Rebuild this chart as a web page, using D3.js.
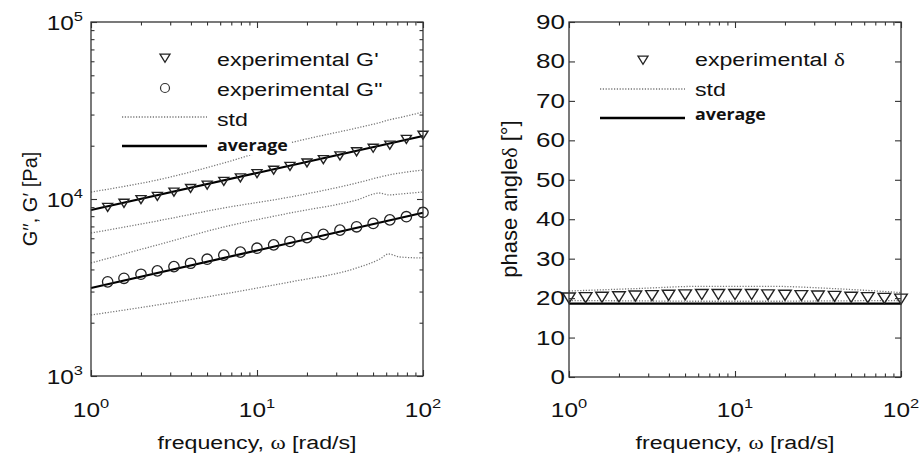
<!DOCTYPE html>
<html>
<head>
<meta charset="utf-8">
<script src="https://d3js.org/d3.v7.min.js"></script>
<style>
  body { margin: 0; background: #fff; }
  text { font-family: "Liberation Sans", Arial, sans-serif; fill: #111; }
</style>
</head>
<body>
<div id="chart"></div>
<script>
// ---- data ----
// left panel: storage / loss modulus vs frequency
var freqG = [1.26, 1.58, 2.0, 2.51, 3.16, 3.98, 5.01, 6.31, 7.94, 10, 12.6, 15.8, 20, 25.1, 31.6, 39.8, 50.1, 63.1, 79.4, 100];
var gPrime = [8995, 9484, 9954, 10375, 10965, 11508, 12023, 12618, 13213, 13964, 14588, 15346, 16032, 16749, 17579, 18535, 19409, 20230, 21780, 23010];
var gDouble = [3404, 3565, 3758, 3926, 4150, 4335, 4571, 4819, 5012, 5272, 5508, 5754, 6053, 6310, 6668, 6966, 7278, 7621, 7943, 8395];

var freqAvg = [1, 10, 100];
var gPrimeAvg = [8670, 14030, 22700];
var gDoubleAvg = [3140, 5120, 8360];

var freqStd = [1, 2.5, 6.3, 15.8, 39.8, 55, 62, 72.7, 100];
var gPrimeStdHi = [10950, 12800, 15970, 20720, 25180, 27050, 27950, 28870, 31000];
var gPrimeStdLo = [6427, 7510, 8896, 10260, 12310, 13310, 13660, 14020, 14580];
var gDoubleStdHi = [4350, 5497, 6947, 8335, 9872, 10810, 10540, 10670, 10950];
var gDoubleStdLo = [2212, 2518, 2906, 3397, 4076, 4581, 4891, 4702, 4642];

// right panel: phase angle vs frequency
var freqDelta = [1, 1.26, 1.58, 2.0, 2.51, 3.16, 3.98, 5.01, 6.31, 7.94, 10, 12.6, 15.8, 20, 25.1, 31.6, 39.8, 50.1, 63.1, 79.4, 100];
var delta = [20.1, 20.2, 20.3, 20.4, 20.6, 20.7, 20.8, 20.9, 21.0, 21.0, 21.0, 21.0, 20.9, 20.8, 20.7, 20.6, 20.5, 20.3, 20.2, 20.0, 19.8];
var deltaAvg = [18.6, 18.6, 18.6];
var freqDeltaStd = [1, 2.5, 6.3, 15.8, 39.8, 100];
var deltaStdHi = [21.8, 22.4, 23.0, 23.0, 22.4, 21.4];
var deltaStdLo = [19.4, 19.3, 19.2, 19.2, 19.3, 19.4];

var phaseTicks = [0, 10, 20, 30, 40, 50, 60, 70, 80, 90];

var width = 920, height = 462;
var SX = 1.22;   // the original figure is stretched sideways a bit

var svg = d3.select("#chart").append("svg")
    .attr("width", width)
    .attr("height", height);

function zip(xs, ys) {
    return xs.map(function(w, i) { return {w: w, v: ys[i]}; });
}

// widen a text around its own anchor point
function stretch(t, sx) {
    var x = +t.attr("x"), y = +t.attr("y");
    t.attr("transform", "translate(" + x + "," + y + ") scale(" + sx + ",1) translate(" + (-x) + "," + (-y) + ")");
    return t;
}

// log minor ticks between decades
function logMinor(lo, hi) {
    var out = [];
    for (var p = lo; p < hi; p *= 10)
        for (var m = 2; m <= 9; m++) out.push(p * m);
    return out;
}

function box(x, y) {
    var r = x.range(), s = y.range();
    svg.append("rect")
        .attr("x", r[0]).attr("y", s[1])
        .attr("width", r[1] - r[0]).attr("height", s[0] - s[1])
        .attr("fill", "none").attr("stroke", "#333").attr("stroke-width", 1.3);
}

// inward ticks on all four sides, MATLAB style
function ticks(x, y, xMajor, xMinor, yMajor, yMinor) {
    var r = x.range(), s = y.range();
    var sides = [
        [function(){ return d3.axisBottom(x); }, "translate(0," + s[0] + ")", xMajor, xMinor],
        [function(){ return d3.axisTop(x); }, "translate(0," + s[1] + ")", xMajor, xMinor],
        [function(){ return d3.axisLeft(y); }, "translate(" + r[0] + ",0)", yMajor, yMinor],
        [function(){ return d3.axisRight(y); }, "translate(" + r[1] + ",0)", yMajor, yMinor]
    ];
    sides.forEach(function(sd) {
        [[sd[2], -6], [sd[3], -3.5]].forEach(function(t) {
            if (!t[0].length) return;
            var g = svg.append("g").attr("transform", sd[1])
                .call(sd[0]().tickValues(t[0]).tickSize(t[1]).tickFormat(""));
            g.select(".domain").remove();
            g.selectAll("line").attr("stroke", "#333").attr("stroke-width", 1.1);
        });
    });
}

function powLabel(g, px, py, exp, anchor) {
    var t = g.append("text")
        .attr("x", px).attr("y", py)
        .attr("text-anchor", anchor)
        .style("font-size", "20px");
    t.append("tspan").text("10");
    t.append("tspan").attr("dy", -9).style("font-size", "13.5px").text(exp);
    stretch(t, SX);
}

function dotted(x, y, fs, vs) {
    svg.append("path")
        .datum(zip(fs, vs))
        .attr("d", d3.line().curve(d3.curveMonotoneX).x(function(d){ return x(d.w); }).y(function(d){ return y(d.v); }))
        .attr("fill", "none")
        .attr("stroke", "#777")
        .attr("stroke-width", 1.3)
        .attr("stroke-dasharray", "1.2,1.6");
}

function solid(x, y, fs, vs) {
    svg.append("path")
        .datum(zip(fs, vs))
        .attr("d", d3.line().x(function(d){ return x(d.w); }).y(function(d){ return y(d.v); }))
        .attr("fill", "none")
        .attr("stroke", "#000")
        .attr("stroke-width", 2.2);
}

function triangles(x, y, fs, vs, s) {
    svg.append("g").selectAll("path")
        .data(zip(fs, vs))
        .enter().append("path")
        .attr("transform", function(d){ return "translate(" + x(d.w) + "," + y(d.v) + ")"; })
        .attr("d", "M" + (-s) + "," + (-s * 0.75) + "L" + s + "," + (-s * 0.75) + "L0," + (s * 0.85) + "Z")
        .attr("fill", "none")
        .attr("stroke", "#222")
        .attr("stroke-width", 1.4);
}

function freqTitle(cx) {
    var t = svg.append("text")
        .attr("x", cx).attr("y", 449)
        .attr("text-anchor", "middle")
        .style("font-size", "19px")
        .html('frequency, <tspan style="font-family:\'Liberation Serif\',serif">ω</tspan> [rad/s]');
    stretch(t, SX);
}

function legText(g, x, y, html) {
    var t = g.append("text").attr("x", x).attr("y", y).style("font-size", "19px").html(html);
    stretch(t, SX);
}

function legBold(g, x, y) {
    var t = g.append("text").attr("x", x).attr("y", y)
        .style("font-family", "'Open Sans', sans-serif").style("font-weight", "bold").style("font-size", "15.5px")
        .text("average");
    stretch(t, 1.15);
}

// ================= left panel =================
var xL = d3.scaleLog().domain([1, 100]).range([91, 423]);
var yL = d3.scaleLog().domain([1e3, 1e5]).range([376, 22]);

dotted(xL, yL, freqStd, gPrimeStdHi);
dotted(xL, yL, freqStd, gPrimeStdLo);
dotted(xL, yL, freqStd, gDoubleStdHi);
dotted(xL, yL, freqStd, gDoubleStdLo);
solid(xL, yL, freqAvg, gPrimeAvg);
solid(xL, yL, freqAvg, gDoubleAvg);
triangles(xL, yL, freqG, gPrime, 5);

svg.append("g").selectAll("circle")
    .data(zip(freqG, gDouble))
    .enter().append("circle")
    .attr("cx", function(d){ return xL(d.w); })
    .attr("cy", function(d){ return yL(d.v); })
    .attr("r", 5.2)
    .attr("fill", "none")
    .attr("stroke", "#222")
    .attr("stroke-width", 1.3);

box(xL, yL);
ticks(xL, yL, [1, 10, 100], logMinor(1, 100), [1e3, 1e4, 1e5], logMinor(1e3, 1e5));

var labL = svg.append("g");
[1, 10, 100].forEach(function(v, i) { powLabel(labL, xL(v), 417, String(i), "middle"); });
[1e3, 1e4, 1e5].forEach(function(v, i) { powLabel(labL, 83, yL(v) + 8, String(i + 3), "end"); });

freqTitle(257);

svg.append("text")
    .attr("transform", "translate(37,199) rotate(-90)")
    .attr("text-anchor", "middle")
    .style("font-size", "20px")
    .text("G\u2032\u2032, G\u2032 [Pa]");

// legend, left
var legL = svg.append("g");
legL.append("path")
    .attr("transform", "translate(165,58)")
    .attr("d", "M-5,-3.8L5,-3.8L0,4.3Z")
    .attr("fill", "none").attr("stroke", "#222").attr("stroke-width", 1.3);
legL.append("circle").attr("cx", 165).attr("cy", 88).attr("r", 4.5)
    .attr("fill", "none").attr("stroke", "#333").attr("stroke-width", 1.2);
legL.append("line").attr("x1", 122).attr("x2", 207).attr("y1", 117).attr("y2", 117)
    .attr("stroke", "#777").attr("stroke-width", 1.3).attr("stroke-dasharray", "1.2,1.6");
legL.append("line").attr("x1", 122).attr("x2", 207).attr("y1", 146).attr("y2", 146)
    .attr("stroke", "#000").attr("stroke-width", 2.4);
legText(legL, 217, 66, "experimental G'");
legText(legL, 217, 96, "experimental G\"");
legText(legL, 217, 126, "std");
legL.append("rect").attr("x", 215).attr("y", 135).attr("width", 76).attr("height", 20).attr("fill", "#fff");
legBold(legL, 217, 151);

// ================= right panel =================
var xR = d3.scaleLog().domain([1, 100]).range([569, 901]);
var yR = d3.scaleLinear().domain([0, 90]).range([377, 22]);

dotted(xR, yR, freqDeltaStd, deltaStdHi);
dotted(xR, yR, freqDeltaStd, deltaStdLo);
solid(xR, yR, freqAvg, deltaAvg);
triangles(xR, yR, freqDelta, delta, 6.3);

box(xR, yR);
ticks(xR, yR, [1, 10, 100], logMinor(1, 100), phaseTicks, []);

var labR = svg.append("g");
[1, 10, 100].forEach(function(v, i) { powLabel(labR, xR(v), 417, String(i), "middle"); });
labR.selectAll("text.ph")
    .data(phaseTicks)
    .enter().append("text")
    .attr("class", "ph")
    .attr("x", 565)
    .attr("y", function(d){ return yR(d) + 7; })
    .attr("text-anchor", "end")
    .style("font-size", "20px")
    .text(function(d){ return d; })
    .each(function(){ stretch(d3.select(this), 1.3); });

freqTitle(735);

svg.append("text")
    .attr("transform", "translate(517,199) rotate(-90)")
    .attr("text-anchor", "middle")
    .style("font-size", "22px")
    .html('phase angle<tspan style="font-family:\'Liberation Serif\',serif">δ</tspan> [°]');

// legend, right
var legR = svg.append("g");
legR.append("path")
    .attr("transform", "translate(643,60)")
    .attr("d", "M-5,-3.8L5,-3.8L0,4.3Z")
    .attr("fill", "none").attr("stroke", "#222").attr("stroke-width", 1.3);
legR.append("line").attr("x1", 600).attr("x2", 685).attr("y1", 89).attr("y2", 89)
    .attr("stroke", "#777").attr("stroke-width", 1.3).attr("stroke-dasharray", "1.2,1.6");
legR.append("line").attr("x1", 600).attr("x2", 685).attr("y1", 118).attr("y2", 118)
    .attr("stroke", "#000").attr("stroke-width", 2.4);
legText(legR, 695, 66, 'experimental <tspan style="font-family:\'Liberation Serif\',serif">δ</tspan>');
legText(legR, 695, 96, "std");
legBold(legR, 695, 120);
</script>
</body>
</html>
